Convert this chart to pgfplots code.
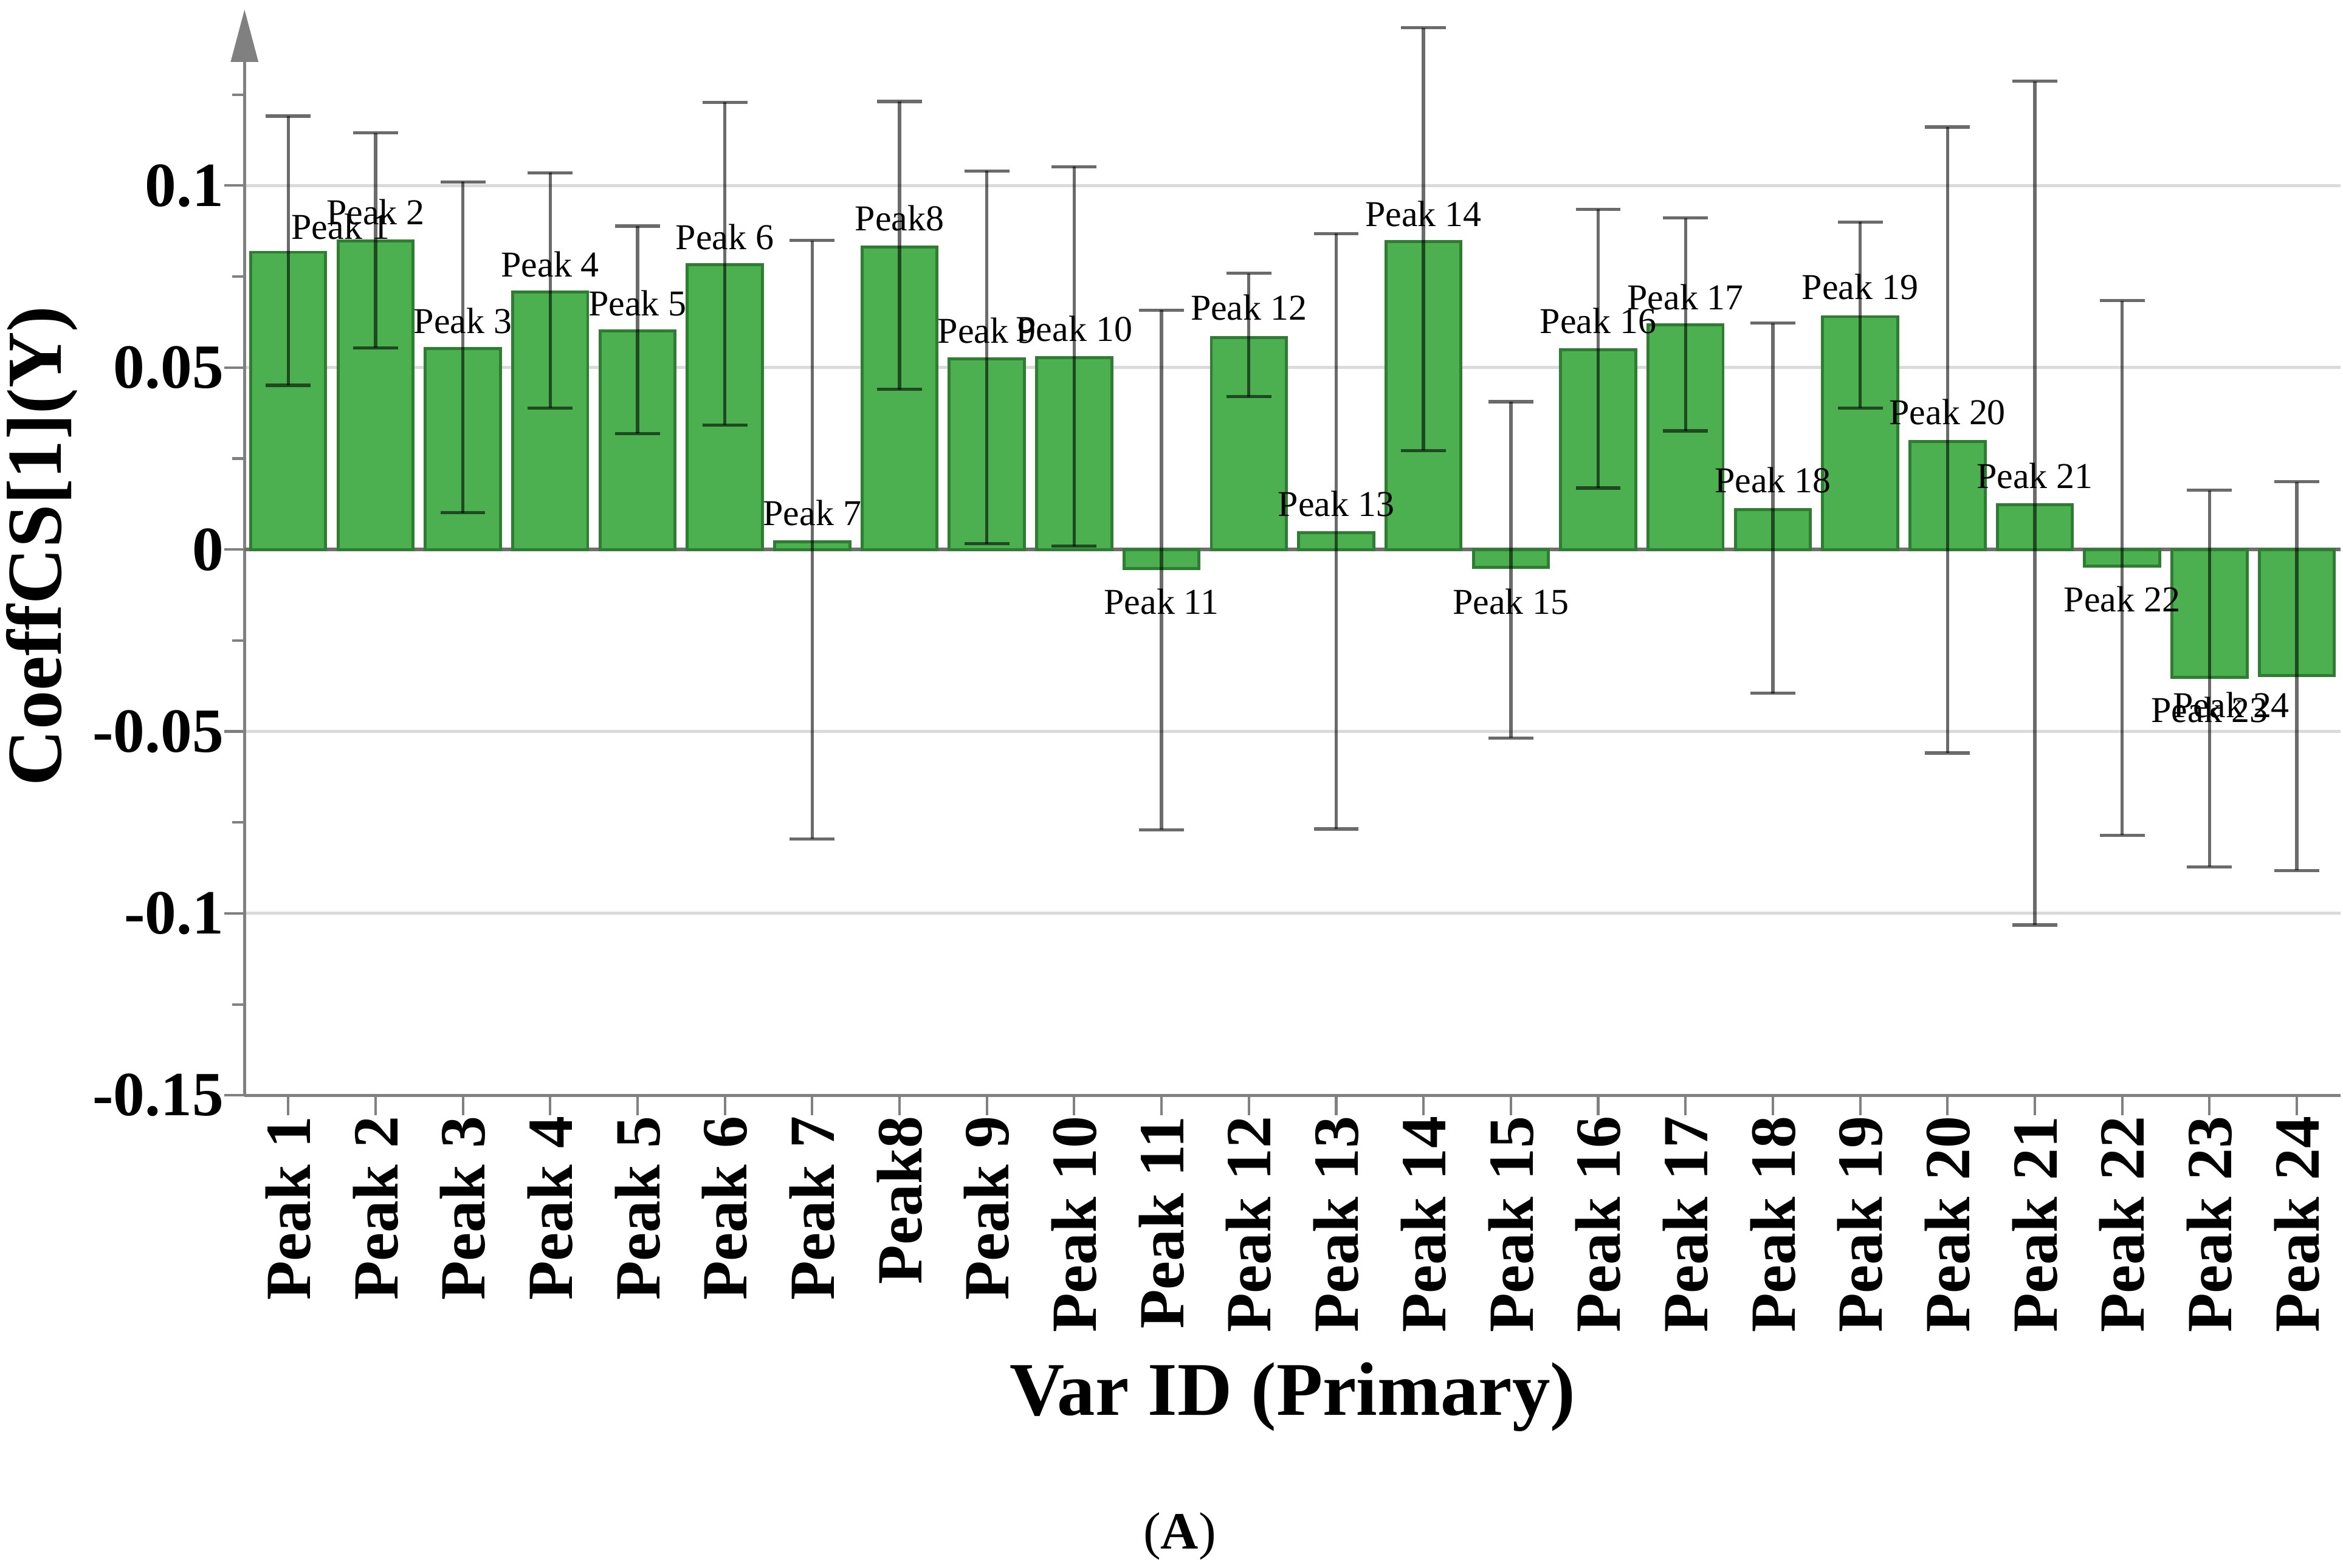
\documentclass[border=0pt]{standalone}
\usepackage{fontspec}
\setmainfont{Liberation Serif}
\usepackage{pgfplots}
\usepackage{pgfplotstable}
\pgfplotsset{compat=1.18}
\usetikzlibrary{arrows.meta}
\definecolor{barfill}{HTML}{4CAF50}
\definecolor{barline}{HTML}{2E7D32}
\definecolor{axgray}{RGB}{128,128,128}
\definecolor{gridgray}{RGB}{218,218,218}
\definecolor{zerogray}{RGB}{110,110,110}

\pgfplotstableread{
x y ep em
1 0.0817 0.0374 0.0366
2 0.0848 0.0297 0.0294
3 0.0553 0.0457 0.0452
4 0.0708 0.0327 0.0319
5 0.0600 0.0289 0.0281
6 0.0782 0.0447 0.0440
7 0.0021 0.0828 0.0816
8 0.0831 0.0400 0.0391
9 0.0524 0.0516 0.0508
10 0.0527 0.0525 0.0518
11 -0.0052 0.0710 0.0718
12 0.0583 0.0176 0.0163
13 0.0046 0.0822 0.0814
14 0.0846 0.0588 0.0574
15 -0.0049 0.0455 0.0469
16 0.0549 0.0386 0.0380
17 0.0617 0.0294 0.0291
18 0.0109 0.0513 0.0504
19 0.0640 0.0260 0.0251
20 0.0297 0.0864 0.0856
21 0.0123 0.1164 0.1155
22 -0.0046 0.0730 0.0739
23 -0.0351 0.0514 0.0521
24 -0.0346 0.0532 0.0536
}\bars

\pgfplotstableread[col sep=comma]{
x,y,label
1.60,0.0887,Peak 1
2,0.0927,Peak 2
3,0.0629,Peak 3
4,0.0783,Peak 4
5,0.0677,Peak 5
6,0.0859,Peak 6
7,0.0100,Peak 7
8,0.0911,Peak8
9,0.0602,Peak 9
10,0.0607,Peak 10
11,-0.0143,Peak 11
12,0.0665,Peak 12
13,0.0125,Peak 13
14,0.0923,Peak 14
15,-0.0143,Peak 15
16,0.0628,Peak 16
17,0.0693,Peak 17
18,0.0190,Peak 18
19,0.0722,Peak 19
20,0.0377,Peak 20
21,0.0202,Peak 21
22,-0.0136,Peak 22
23,-0.0441,Peak 23
23.25,-0.0427,Peak 24
}\labels

\begin{document}
\begin{tikzpicture}
\begin{axis}[
  at={(0,0)}, anchor=south west,
  scale only axis, width=420pt, height=217.6pt,
  xmin=0.5, xmax=24.5, ymin=-0.15, ymax=0.1484,
  axis lines=left,
  axis line style={draw=axgray, line width=0.6pt},
  x axis line style={-},
  y axis line style={-{Triangle[length=10.5pt,width=5.4pt]}},
  xtick={1,...,24},
  xticklabels={Peak 1,Peak 2,Peak 3,Peak 4,Peak 5,Peak 6,Peak 7,Peak8,Peak 9,Peak 10,Peak 11,Peak 12,Peak 13,Peak 14,Peak 15,Peak 16,Peak 17,Peak 18,Peak 19,Peak 20,Peak 21,Peak 22,Peak 23,Peak 24},
  ytick={-0.15,-0.1,-0.05,0,0.05,0.1},
  yticklabels={-0.15,-0.1,-0.05,0,0.05,0.1},
  minor ytick={-0.125,-0.075,-0.025,0.025,0.075,0.125},
  tick align=outside,
  major tick length=4pt, minor tick length=2.5pt,
  tick style={draw=axgray, line width=0.5pt},
  ymajorgrids,
  major grid style={draw=gridgray, line width=0.6pt},
  extra y ticks={0},
  extra y tick labels={},
  extra y tick style={grid=major, major grid style={draw=zerogray, line width=0.7pt}},
  yticklabel style={font=\bfseries\fontsize{12.6}{12.6}\selectfont, inner sep=0pt},
  xticklabel style={font=\bfseries\fontsize{12.9}{12.9}\selectfont, rotate=90, anchor=east, inner sep=0pt},
  xlabel={Var ID (Primary)},
  xlabel style={font=\bfseries\fontsize{15.2}{15.2}\selectfont, at={(axis description cs:0.5,-0.2946)}, anchor=base},
  ylabel={CoeffCS[1](Y)},
  ylabel style={font=\bfseries\fontsize{15.6}{15.6}\selectfont, at={(axis description cs:-0.0875,0.506)}, anchor=base},
  clip=false,
]
\addplot[ybar, bar width=0.86, fill=barfill, draw=barline, line width=0.6pt] table[x=x,y=y]{\bars};
\addplot[draw=none, nodes near coords, point meta=explicit symbolic,
  every node near coord/.append style={anchor=center, font=\fontsize{7.3}{7.3}\selectfont, inner sep=0pt, text=black}]
  table[x=x,y=y,meta=label]{\labels};
\addplot[draw=none, error bars/.cd, y dir=both, y explicit,
  error bar style={draw=black, draw opacity=0.58, line width=0.65pt},
  error mark options={rotate=90, draw=black, draw opacity=0.58, mark size=4.5pt, line width=0.65pt}]
  table[x=x,y=y,y error plus=ep,y error minus=em]{\bars};
\end{axis}
\node[font=\fontsize{10.5}{10.5}\selectfont] at (187.4pt,-88.3pt) {(\textbf{A})};
\pgfresetboundingbox
\path (-49pt,-94.6pt) rectangle (420.5pt,219.5pt);
\end{tikzpicture}
\end{document}
